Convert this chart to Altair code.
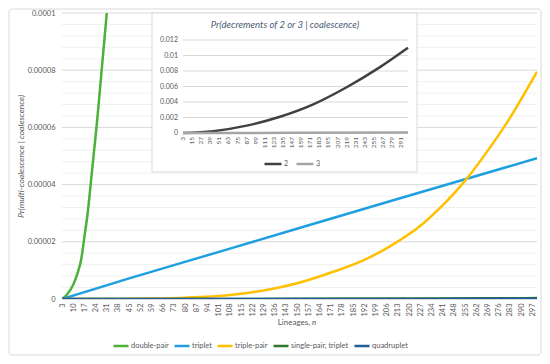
import altair as alt
import pandas as pd

FONT = "Lato"
GRAY = "#595959"

# ---------------- main chart data ----------------
series_names = ["double-pair", "triplet", "triple-pair", "single-pair, triplet", "quadruplet"]
series_colors = ["#4DB03A", "#1E9FE0", "#FFC000", "#2F7A2A", "#1F5C99"]

double_n = [3, 6, 10, 13, 15, 17, 19, 21, 23, 25, 27, 29, 31, 33]
double_v = [0, 1.5e-6, 5.0e-6, 9.5e-6, 1.38e-5, 2.17e-5, 2.98e-5, 4.05e-5, 5.15e-5,
            6.25e-5, 7.5e-5, 8.75e-5, 1.0e-4, 1.13e-4]

triplet_n = [3, 45, 108, 208, 300]
triplet_v = [0, 7.2e-6, 1.76e-5, 3.42e-5, 4.92e-5]

triplepair_n = [3, 40, 60, 80, 108, 129, 150, 170, 191, 208, 229, 240, 256, 270, 281, 300]
triplepair_v = [0, 3e-8, 1.5e-7, 4.5e-7, 1.4e-6, 3.0e-6, 5.5e-6, 9.0e-6, 1.34e-5,
                1.84e-5, 2.65e-5, 3.22e-5, 4.2e-5, 5.25e-5, 6.15e-5, 7.95e-5]

sptriplet_n = [3, 150, 234, 290, 300]
sptriplet_v = [0, 5e-8, 1.6e-7, 2.8e-7, 3.2e-7]

quad_n = [3, 150, 300]
quad_v = [0, 1e-8, 6e-8]

x_ticks = [3, 10, 17, 24, 31, 38, 45, 52, 59, 66, 73, 80, 87, 94, 101, 108, 115, 122,
           129, 136, 143, 150, 157, 164, 171, 178, 185, 192, 199, 206, 213, 220, 227,
           234, 241, 248, 255, 262, 269, 276, 283, 290, 297]
y_major = [0, 0.00002, 0.00004, 0.00006, 0.00008, 0.0001]
y_minor = [0.000004, 0.000008, 0.000012, 0.000016, 0.000024, 0.000028, 0.000032,
           0.000036, 0.000044, 0.000048, 0.000052, 0.000056, 0.000064, 0.000068,
           0.000072, 0.000076, 0.000084, 0.000088, 0.000092, 0.000096]

# ---------------- inset data ----------------
inset_names = ["2", "3"]
inset_colors = ["#404040", "#A5A5A5"]
dec2_n = [3, 43, 87, 131, 175, 219, 263, 300]
dec2_v = [1e-5, 0.00024, 0.00095, 0.0021, 0.0037, 0.0059, 0.0085, 0.011]
dec3_n = [3, 150, 300]
dec3_v = [0, 0.00002, 0.00006]
inset_x_ticks = [3, 15, 27, 39, 51, 63, 75, 87, 99, 111, 123, 135, 147, 159, 171, 183,
                 195, 207, 219, 231, 243, 255, 267, 279, 291]
inset_y_ticks = [0, 0.002, 0.004, 0.006, 0.008, 0.01, 0.012]
inset_y_labels = ["0", "0.002", "0.004", "0.006", "0.008", "0.01", "0.012"]

# ---------------- build tables ----------------
rows = []
for name, ns, vs in zip(series_names,
                        [double_n, triplet_n, triplepair_n, sptriplet_n, quad_n],
                        [double_v, triplet_v, triplepair_v, sptriplet_v, quad_v]):
    for k, (n, v) in enumerate(zip(ns, vs)):
        rows.append({"series": name, "n": n, "v": v, "i": k})
main_df = pd.DataFrame(rows)

irows = []
for name, ns, vs in zip(inset_names, [dec2_n, dec3_n], [dec2_v, dec3_v]):
    for k, (n, v) in enumerate(zip(ns, vs)):
        irows.append({"series": name, "n": n, "v": v, "i": k})
inset_df = pd.DataFrame(irows)

one = pd.DataFrame({"k": [0]})

# ---------------- main layer ----------------
mx = alt.Scale(domain=[3, 300], nice=False, zero=False)
my = alt.Scale(domain=[0, 0.0001], nice=False, zero=False)

x_axis = alt.Axis(values=x_ticks, title=None, labelAngle=270, labelAlign="right",
                  labelBaseline="middle", labelFontSize=7.5, labelColor=GRAY,
                  labelFont=FONT, labelPadding=4, ticks=False, grid=False,
                  domainColor="#D9D9D9", labelOverlap=False, labelFlush=False, zindex=1)
y_axis = alt.Axis(values=y_major, title="Pr(multi-coalescence | coalescence)",
                  labelExpr="datum.value == 0 ? '0' : format(datum.value, '.5~f')",
                  labelFontSize=7.5, labelColor=GRAY, labelFont=FONT, labelPadding=7,
                  ticks=False, domain=False, grid=False,
                  titleFont=FONT, titleFontSize=8.5, titleFontStyle="italic",
                  titleFontWeight="normal", titleColor=GRAY,
                  titleX=-42, titleY=143, titleAngle=270, titleAlign="center",
                  titleBaseline="middle", zindex=1)

border = alt.Chart(one).mark_rect(fill="white", stroke="#D9D9D9", strokeWidth=1,
                                  cornerRadius=3).encode(
    x=alt.value(-53), x2=alt.value(479), y=alt.value(-4), y2=alt.value(342))

minor = alt.Chart(pd.DataFrame({"v": y_minor})).mark_rule(
    color="#F0F0F0", strokeWidth=1).encode(
    y=alt.Y("v:Q", scale=my, axis=y_axis), x=alt.value(0), x2=alt.value(475))

major = alt.Chart(pd.DataFrame({"v": y_major[1:]})).mark_rule(
    color="#D9D9D9", strokeWidth=1).encode(
    y=alt.Y("v:Q", scale=my, axis=y_axis), x=alt.value(0), x2=alt.value(475))

lines = alt.Chart(main_df).mark_line(strokeWidth=2.5, clip=True,
                                     interpolate="monotone").encode(
    x=alt.X("n:Q", scale=mx, axis=x_axis),
    y=alt.Y("v:Q", scale=my, axis=y_axis),
    color=alt.Color("series:N", scale=alt.Scale(domain=series_names, range=series_colors),
                    legend=alt.Legend(orient="none", legendX=50, legendY=324,
                                      direction="horizontal", columns=5, title=None,
                                      symbolType="stroke", symbolSize=225,
                                      symbolStrokeWidth=2.5, labelFontSize=7.5,
                                      labelFont=FONT, labelColor=GRAY, columnPadding=0,
                                      labelOffset=1, padding=0)),
    order="i:Q",
)

xtitle_a = alt.Chart(one).mark_text(text="Lineages,", align="right", baseline="middle",
                                    font=FONT, fontSize=8, color=GRAY).encode(
    x=alt.value(248), y=alt.value(310))
xtitle_b = alt.Chart(one).mark_text(text="n", align="left", baseline="middle",
                                    font=FONT, fontSize=8, fontStyle="italic",
                                    color=GRAY).encode(
    x=alt.value(250), y=alt.value(310))

main = alt.layer(border, minor, major, lines, xtitle_a, xtitle_b)

# ---------------- inset layer ----------------
ix = alt.Scale(domain=[3, 300], range=[121, 346], nice=False, zero=False)
iy = alt.Scale(domain=[0, 0.012], range=[120, 27], nice=False, zero=False)

ibox = alt.Chart(one).mark_rect(fill="white", stroke="#D9D9D9", strokeWidth=1).encode(
    x=alt.value(90), x2=alt.value(355), y=alt.value(0), y2=alt.value(159))

igrid = alt.Chart(pd.DataFrame({"v": inset_y_ticks})).mark_rule(
    color="#D9D9D9", strokeWidth=1).encode(
    y=alt.Y("v:Q", scale=iy, axis=None), x=alt.value(121), x2=alt.value(346))

ilines = alt.Chart(inset_df).mark_line(strokeWidth=2.5, interpolate="monotone").encode(
    x=alt.X("n:Q", scale=ix, axis=None),
    y=alt.Y("v:Q", scale=iy, axis=None),
    color=alt.Color("series:N", scale=alt.Scale(domain=inset_names, range=inset_colors),
                    legend=alt.Legend(orient="none", legendX=201, legendY=141,
                                      direction="horizontal", columns=2, title=None,
                                      symbolType="stroke", symbolSize=289,
                                      symbolStrokeWidth=2.5, labelFontSize=7,
                                      labelFont=FONT, labelColor=GRAY, columnPadding=2,
                                      labelOffset=1, padding=0)),
    order="i:Q",
)

iylab = alt.Chart(pd.DataFrame({"v": inset_y_ticks, "t": inset_y_labels})).mark_text(
    align="right", baseline="middle", font=FONT, fontSize=7, color=GRAY).encode(
    y=alt.Y("v:Q", scale=iy, axis=None), x=alt.value(116), text="t:N")

ixlab = alt.Chart(pd.DataFrame({"n": inset_x_ticks})).mark_text(
    align="right", baseline="middle", angle=270, font=FONT, fontSize=6.5,
    color=GRAY).encode(
    x=alt.X("n:Q", scale=ix, axis=None), y=alt.value(124), text="n:N")

ititle = alt.Chart(one).mark_text(text="Pr(decrements of 2 or 3 | coalescence)",
                                  align="center", baseline="middle", font=FONT,
                                  fontSize=9.5, fontStyle="italic", color="#4A5B75").encode(
    x=alt.value(223), y=alt.value(12))

inset = alt.layer(ibox, igrid, ilines, iylab, ixlab, ititle)

chart = alt.layer(main, inset).resolve_scale(
    x="independent", y="independent", color="independent"
).properties(
    width=475, height=286,
    autosize=alt.AutoSizeParams(type="none"),
    padding={"left": 54, "top": 5, "right": 5, "bottom": 57},
).configure_view(stroke=None).configure(font=FONT)

chart.save("out.html", embed_options={"renderer": "svg", "actions": False})
